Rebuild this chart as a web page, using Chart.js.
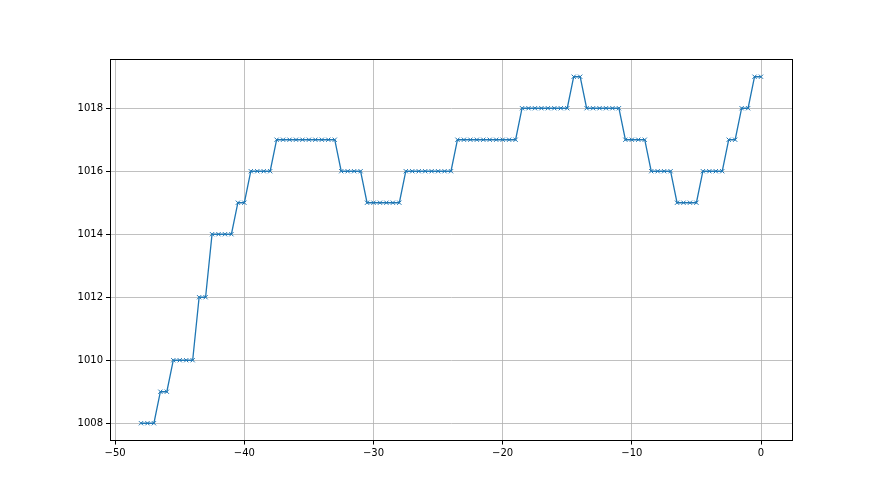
<!DOCTYPE html>
<html>
<head>
<meta charset="utf-8">
<script src="https://cdn.jsdelivr.net/npm/chart.js@4/dist/chart.umd.min.js"></script>
<style>
html,body{margin:0;padding:0;background:#fff;}
canvas{display:block;}
</style>
</head>
<body>
<canvas id="c" width="880" height="495"></canvas>
<script>
const xValues = [-48,-47.5,-47,-46.5,-46,-45.5,-45,-44.5,-44,-43.5,-43,-42.5,-42,-41.5,-41,-40.5,-40,-39.5,-39,-38.5,-38,-37.5,-37,-36.5,-36,-35.5,-35,-34.5,-34,-33.5,-33,-32.5,-32,-31.5,-31,-30.5,-30,-29.5,-29,-28.5,-28,-27.5,-27,-26.5,-26,-25.5,-25,-24.5,-24,-23.5,-23,-22.5,-22,-21.5,-21,-20.5,-20,-19.5,-19,-18.5,-18,-17.5,-17,-16.5,-16,-15.5,-15,-14.5,-14,-13.5,-13,-12.5,-12,-11.5,-11,-10.5,-10,-9.5,-9,-8.5,-8,-7.5,-7,-6.5,-6,-5.5,-5,-4.5,-4,-3.5,-3,-2.5,-2,-1.5,-1,-0.5,0];
const pressure = [1008,1008,1008,1009,1009,1010,1010,1010,1010,1012,1012,1014,1014,1014,1014,1015,1015,1016,1016,1016,1016,1017,1017,1017,1017,1017,1017,1017,1017,1017,1017,1016,1016,1016,1016,1015,1015,1015,1015,1015,1015,1016,1016,1016,1016,1016,1016,1016,1016,1017,1017,1017,1017,1017,1017,1017,1017,1017,1017,1018,1018,1018,1018,1018,1018,1018,1018,1019,1019,1018,1018,1018,1018,1018,1018,1017,1017,1017,1017,1016,1016,1016,1016,1015,1015,1015,1015,1016,1016,1016,1016,1017,1017,1018,1018,1019,1019];
const xTicks = [-50,-40,-30,-20,-10,0];
const yTicks = [1008,1010,1012,1014,1016,1018];

const points = xValues.map((x,i)=>({x:x,y:pressure[i]}));
const fmt = v => (v<0 ? '\u2212'+Math.abs(v) : String(v));

const frame = {
  id:'frame',
  afterDatasetsDraw(chart){
    const a = chart.chartArea, ctx = chart.ctx;
    ctx.save();
    ctx.strokeStyle = '#000';
    ctx.lineWidth = 1;
    ctx.strokeRect(Math.round(a.left)+0.5, Math.round(a.top)+0.5, Math.round(a.right-a.left), Math.round(a.bottom-a.top));
    ctx.restore();
  }
};

new Chart(document.getElementById('c'), {
  type:'scatter',
  data:{datasets:[{
    data: points,
    showLine:true,
    borderColor:'#1f77b4',
    backgroundColor:'#1f77b4',
    borderWidth:1.3,
    tension:0,
    pointStyle:'crossRot',
    pointRadius:3,
    pointHoverRadius:3,
    pointBorderWidth:1,
    pointBorderColor:'#1f77b4'
  }]},
  options:{
    responsive:false,
    animation:false,
    events:[],
    layout:{padding:{left:0,right:88,top:59.4,bottom:0}},
    plugins:{legend:{display:false},tooltip:{enabled:false}},
    scales:{
      x:{
        type:'linear', min:-50.4, max:2.4,
        afterBuildTicks(s){ s.ticks = xTicks.map(v=>({value:v})); },
        afterFit(s){ s.height = 54.45; },
        grid:{color:'#b0b0b0', lineWidth:0.8, tickColor:'#000', tickLength:4, tickWidth:1},
        border:{color:'#000', width:1},
        ticks:{color:'#000', font:{family:'DejaVu Sans', size:10}, padding:3, maxRotation:0, callback:v=>fmt(v)}
      },
      y:{
        type:'linear', min:1007.45, max:1019.55,
        afterBuildTicks(s){ s.ticks = yTicks.map(v=>({value:v})); },
        afterFit(s){ s.width = 110; },
        grid:{color:'#b0b0b0', lineWidth:0.8, tickColor:'#000', tickLength:4, tickWidth:1},
        border:{color:'#000', width:1},
        ticks:{color:'#000', font:{family:'DejaVu Sans', size:10}, padding:3, callback:v=>String(v)}
      }
    }
  },
  plugins:[frame]
});
</script>
</body>
</html>
